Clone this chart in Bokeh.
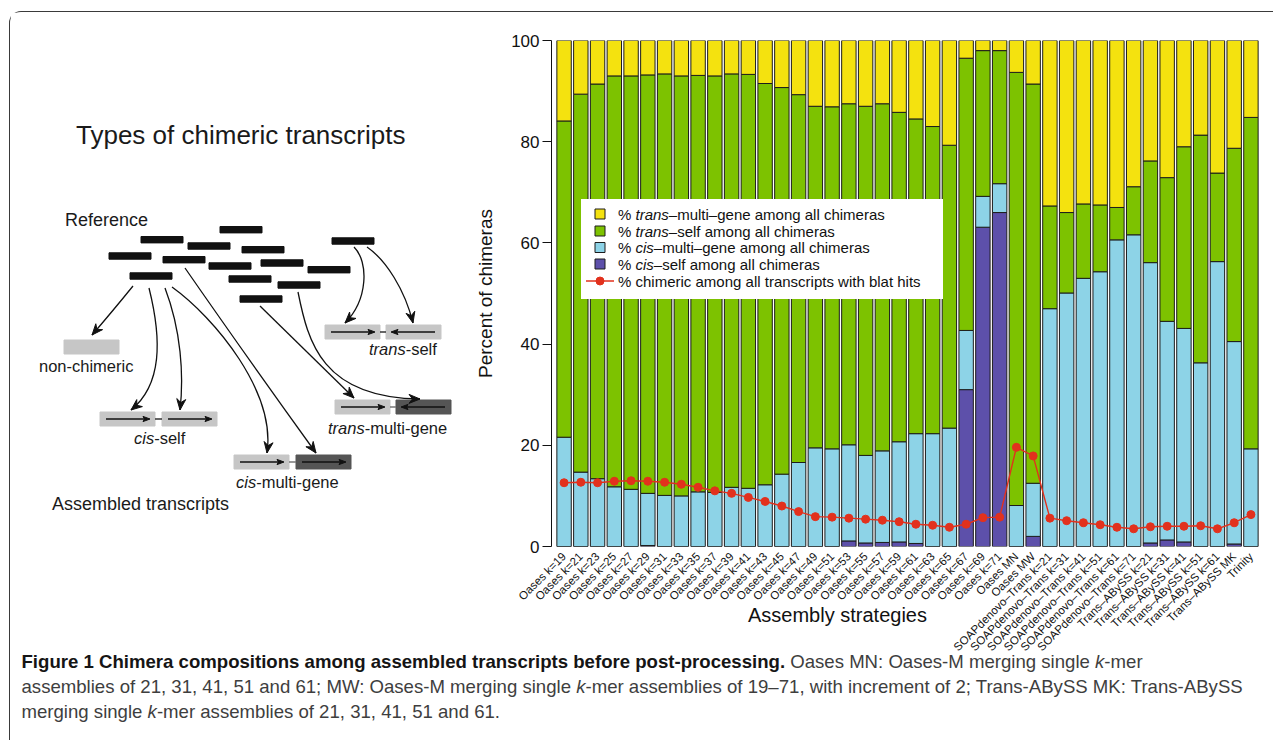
import math
from bokeh.plotting import figure
from bokeh.models import FactorRange, Range1d, FixedTicker, ColumnDataSource, Div
from bokeh.layouts import row, column
from bokeh.core.properties import value
from bokeh.embed import file_html
from bokeh.resources import INLINE

# ---------------- data ----------------
strategies = [
    "Oases k=19", "Oases k=21", "Oases k=23", "Oases k=25", "Oases k=27", "Oases k=29",
    "Oases k=31", "Oases k=33", "Oases k=35", "Oases k=37", "Oases k=39", "Oases k=41",
    "Oases k=43", "Oases k=45", "Oases k=47", "Oases k=49", "Oases k=51", "Oases k=53",
    "Oases k=55", "Oases k=57", "Oases k=59", "Oases k=61", "Oases k=63", "Oases k=65",
    "Oases k=67", "Oases k=69", "Oases k=71", "Oases MN", "Oases MW",
    "SOAPdenovo–Trans k=21", "SOAPdenovo–Trans k=31", "SOAPdenovo–Trans k=41",
    "SOAPdenovo–Trans k=51", "SOAPdenovo–Trans k=61", "SOAPdenovo–Trans k=71",
    "Trans–ABySS k=21", "Trans–ABySS k=31", "Trans–ABySS k=41", "Trans–ABySS k=51",
    "Trans–ABySS k=61", "Trans–ABySS MK", "Trinity",
]
cis_self = [0, 0, 0, 0, 0, 0.2, 0, 0, 0, 0, 0, 0, 0, 0, 0, 0, 0, 1.1, 0.7, 0.8, 0.9, 0.6,
            0, 0, 31.0, 63.1, 66.0, 0, 2.0, 0, 0, 0, 0, 0, 0, 0.7, 1.3, 0.9, 0, 0, 0.5, 0]
cis_multi = [21.6, 14.7, 13.4, 11.8, 11.3, 10.3, 10.1, 10.0, 10.8, 10.7, 11.7, 11.5, 12.2,
             14.3, 16.6, 19.5, 19.3, 19.0, 17.3, 18.1, 19.8, 21.7, 22.3, 23.4, 11.7, 6.1,
             5.7, 8.1, 10.5, 47.0, 50.1, 53.0, 54.3, 60.6, 61.6, 55.4, 43.2, 42.2, 36.3,
             56.3, 40.0, 19.3]
trans_self = [62.5, 74.7, 78.0, 81.2, 81.7, 82.7, 83.3, 83.0, 82.3, 82.3, 81.7, 81.8, 79.3,
              76.4, 72.7, 67.5, 67.6, 67.4, 69.0, 68.6, 65.1, 62.2, 60.7, 55.9, 53.8, 28.8,
              26.3, 85.6, 78.9, 20.3, 15.9, 14.7, 13.2, 6.4, 9.5, 20.1, 28.4, 35.9, 45.0,
              17.5, 38.2, 65.5]
trans_multi = [15.9, 10.6, 8.6, 7.0, 7.0, 6.8, 6.6, 7.0, 6.9, 7.0, 6.6, 6.7, 8.5, 9.3, 10.7,
               13.0, 13.1, 12.5, 13.0, 12.5, 14.2, 15.5, 17.0, 20.7, 3.5, 2.0, 2.0, 6.3, 8.6,
               32.7, 34.0, 32.3, 32.5, 33.0, 28.9, 23.8, 27.1, 21.0, 18.7, 26.2, 21.3, 15.2]
chimeric_pct = [12.6, 12.7, 12.6, 12.9, 13.0, 12.9, 12.7, 12.3, 11.7, 11.0, 10.5, 9.7, 8.9,
                8.0, 6.9, 5.9, 5.8, 5.6, 5.4, 5.2, 4.9, 4.4, 4.2, 3.8, 4.4, 5.7, 5.8, 19.6,
                17.9, 5.6, 5.1, 4.7, 4.3, 3.8, 3.5, 3.9, 4.0, 4.0, 4.1, 3.5, 4.7, 6.3]
y_ticks = [0, 20, 40, 60, 80, 100]

YELLOW, GREEN, CYAN, PURPLE, RED = "#f4e20f", "#7dc200", "#8dd3e7", "#5d50aa", "#e2311d"
FONT = "Liberation Sans"

# ---------------- geometry (page pixels) ----------------
OX, OY = 10.5, 12.5          # content origin inside the framed box
DW = 461                     # diagram width
PAD = 0.25
ML, MR, MT, MB = 80, 10, 28, 120
FRAME_H = 506
CH = MT + FRAME_H + MB
CW = 802
FRAME_W = CW - ML - MR
UNIT_X = FRAME_W / (len(strategies) + 2 * PAD)
X0_PAGE, Y0_PAGE = OX + DW + ML, OY + MT    # page position of chart frame's top-left


def sx(px):
    return (px - X0_PAGE) / UNIT_X - PAD


def sy(py):
    return (Y0_PAGE + FRAME_H - py) * 100.0 / FRAME_H


# ---------------- chart ----------------
src = ColumnDataSource(dict(strategy=strategies, cis_self=cis_self, cis_multi=cis_multi,
                            trans_self=trans_self, trans_multi=trans_multi,
                            chimeric=chimeric_pct))

p = figure(x_range=FactorRange(factors=strategies, range_padding=PAD,
                               range_padding_units="absolute"),
           y_range=Range1d(0, 100), width=CW, height=CH,
           min_border_left=ML, min_border_right=MR, min_border_top=MT, min_border_bottom=MB,
           output_backend="svg", toolbar_location=None)
p.vbar_stack(["cis_self", "cis_multi", "trans_self", "trans_multi"], x="strategy",
             width=0.86, color=[PURPLE, CYAN, GREEN, YELLOW], line_color="#1c1c1c",
             line_width=1, source=src)
p.line(x="strategy", y="chimeric", source=src, color=RED, line_width=1.4)
p.scatter(x="strategy", y="chimeric", source=src, size=8, color=RED)

p.grid.visible = False
p.outline_line_color = None
p.background_fill_color = "white"

xa = p.xaxis[0]
xa.axis_line_color = None
xa.major_tick_line_color = None
xa.minor_tick_line_color = None
xa.major_label_orientation = math.pi / 4
xa.major_label_text_font = FONT
xa.major_label_text_font_size = "11.5px"
xa.major_label_text_color = "#111111"
xa.major_label_standoff = 2

ya = p.yaxis[0]
ya.ticker = FixedTicker(ticks=y_ticks)
ya.minor_tick_line_color = None
ya.major_tick_in = 0
ya.major_tick_out = 9
ya.major_tick_line_color = "#111111"
ya.axis_line_color = "#111111"
ya.major_label_text_font = FONT
ya.major_label_text_font_size = "17px"
ya.major_label_text_color = "#111111"
ya.major_label_standoff = 3
ya.axis_label = "Percent of chimeras"
ya.axis_label_text_font = FONT
ya.axis_label_text_font_size = "19px"
ya.axis_label_text_font_style = "normal"
ya.axis_label_text_color = "#111111"
ya.axis_label_standoff = 12

# legend drawn by hand (mixed italic text)
p.quad(left=[sx(581)], right=[sx(943)], top=[sy(199)], bottom=[sy(299)],
       fill_color="white", line_color=None)
leg_rows = [sy(214), sy(231), sy(247.5), sy(264), sy(281)]
p.scatter(x=[sx(600)] * 4, y=leg_rows[:4], marker="square", size=10,
          fill_color=[YELLOW, GREEN, CYAN, PURPLE], line_color="#1c1c1c", line_width=1)
p.segment(x0=[sx(586)], x1=[sx(614)], y0=[leg_rows[4]], y1=[leg_rows[4]], color=RED,
          line_width=1.6)
p.scatter(x=[sx(600)], y=[leg_rows[4]], size=8, color=RED)
LF = 15
tx = sx(618)
p.text(x=[tx] * 5, y=leg_rows, text=["% "] * 4 + ["% chimeric among all transcripts with blat hits"],
       text_font=value(FONT), text_font_size=f"{LF}px", text_baseline="middle",
       text_color="#111111")
p.text(x=[tx] * 4, y=leg_rows[:4], text=["trans", "trans", "cis", "cis"],
       x_offset=1.167 * LF, text_font=value(FONT), text_font_size=f"{LF}px",
       text_font_style="italic", text_baseline="middle", text_color="#111111")
p.text(x=[tx] * 4, y=leg_rows[:4],
       text=["–multi–gene among all chimeras", "–self among all chimeras",
             "–multi–gene among all chimeras", "–self among all chimeras"],
       x_offset=[(1.167 + 2.223) * LF, (1.167 + 2.223) * LF, (1.167 + 1.222) * LF,
                 (1.167 + 1.222) * LF],
       text_font=value(FONT), text_font_size=f"{LF}px", text_baseline="middle",
       text_color="#111111")

# ---------------- diagram ----------------
d = figure(width=DW, height=CH, x_range=Range1d(OX, OX + DW),
           y_range=Range1d(Y0_PAGE + FRAME_H, Y0_PAGE),
           x_axis_type=None, y_axis_type=None, min_border_left=0, min_border_right=0,
           min_border_top=MT, min_border_bottom=MB, output_backend="svg",
           toolbar_location=None)
d.grid.visible = False
d.outline_line_color = None

ref_left = [220, 141, 188, 242, 332, 109, 163, 209, 261, 308, 130, 229, 278, 240]
ref_mid = [229.7, 239.7, 246, 249.7, 241, 256, 259.7, 266, 263, 269.7, 276, 279, 285, 299]
d.quad(left=ref_left, right=[v + 42 for v in ref_left], top=[v - 3.2 for v in ref_mid],
       bottom=[v + 3.2 for v in ref_mid], color="#111111")

LIGHT, DARK = "#c6c6c6", "#555555"
box_l = [64, 100, 162, 234, 296, 325, 386, 335, 396]
box_r = [119, 155, 217, 289, 351, 380, 441, 390, 451]
box_y = [347, 419, 419, 462, 462, 332, 332, 407, 407]
box_c = [LIGHT, LIGHT, LIGHT, LIGHT, DARK, LIGHT, LIGHT, LIGHT, DARK]
box_dir = [0, 1, 1, 1, 1, 1, -1, 1, -1]
d.quad(left=box_l, right=box_r, top=[v - 7 for v in box_y], bottom=[v + 7 for v in box_y],
       color=box_c)
d.segment(x0=[155, 289, 380, 390], x1=[162, 296, 386, 396], y0=[419, 462, 332, 407],
          y1=[419, 462, 332, 407], color=["#333333", "#777777", "#333333", "#777777"],
          line_width=1.5)

ax0, ay0, ax1, ay1 = [], [], [], []
heads_x, heads_y = [], []


def head(xe, ye, dx, dy, L, W, notch):
    n = math.hypot(dx, dy)
    ux, uy = dx / n, dy / n
    px_, py_ = -uy, ux
    bx, by = xe - ux * L, ye - uy * L
    nx, ny = xe - ux * (L - notch), ye - uy * (L - notch)
    heads_x.append([xe, bx + px_ * W, nx, bx - px_ * W])
    heads_y.append([ye, by + py_ * W, ny, by - py_ * W])


for l, r, y, dr in zip(box_l, box_r, box_y, box_dir):
    if dr == 0:
        continue
    s, e = (l + 6, r - 5) if dr > 0 else (r - 6, l + 5)
    ax0.append(s)
    ax1.append(e - dr * 4)
    ay0.append(y)
    ay1.append(y)
    head(e, y, dr, 0, 7, 2.6, 1.5)
d.segment(x0=ax0, x1=ax1, y0=ay0, y1=ay1, color="#111111", line_width=1.5)

curves = [
    ((133, 286), (120, 302), (105, 320), (92, 335)),
    ((149, 288), (162, 340), (162, 385), (131, 410)),
    ((165, 288), (181, 330), (184, 375), (180, 410)),
    ((172, 287), (215, 318), (276, 392), (267, 453)),
    ((185, 268), (228, 330), (272, 392), (316, 453)),
    ((260, 306), (291, 336), (323, 368), (354, 398)),
    ((298, 292), (308, 342), (322, 398), (420, 399)),
    ((354, 247), (369, 262), (368, 300), (345, 323)),
    ((367, 247), (386, 260), (405, 290), (413, 323)),
]
d.bezier(x0=[c[0][0] for c in curves], y0=[c[0][1] for c in curves],
         cx0=[c[1][0] for c in curves], cy0=[c[1][1] for c in curves],
         cx1=[c[2][0] for c in curves], cy1=[c[2][1] for c in curves],
         x1=[c[3][0] for c in curves], y1=[c[3][1] for c in curves],
         color="#111111", line_width=1.3)
for c in curves:
    head(c[3][0], c[3][1], c[3][0] - c[2][0], c[3][1] - c[2][1], 11, 4.5, 3.5)
d.patches(xs=heads_x, ys=heads_y, color="#111111")

TXT = "#1a1a1a"
d.text(x=[76], y=[135], text=["Types of chimeric transcripts"], text_font=value(FONT),
       text_font_size="26px", text_baseline="middle", text_color=TXT)
d.text(x=[65, 52], y=[220, 504], text=["Reference", "Assembled transcripts"],
       text_font=value(FONT), text_font_size="18px", text_baseline="middle", text_color=TXT)
LS = 16.5
d.text(x=[39], y=[366], text=["non-chimeric"], text_font=value(FONT),
       text_font_size=f"{LS}px", text_baseline="middle", text_color=TXT)
lab_x = [134, 236, 369, 328]
lab_y = [438, 482, 349, 428]
d.text(x=lab_x, y=lab_y, text=["cis", "cis", "trans", "trans"], text_font=value(FONT),
       text_font_size=f"{LS}px", text_font_style="italic", text_baseline="middle",
       text_color=TXT)
d.text(x=lab_x, y=lab_y, text=["-self", "-multi-gene", "-self", "-multi-gene"],
       x_offset=[1.222 * LS, 1.222 * LS, 2.223 * LS, 2.223 * LS], text_font=value(FONT),
       text_font_size=f"{LS}px", text_baseline="middle", text_color=TXT)

# ---------------- x-axis title + caption (overlaid below the chart) ----------------
DIV_TOP = 604.5
lift = int(round(OY + CH - DIV_TOP))
caption = Div(width=1262, height=136, margin=(-lift, 0, 0, 0), text=(
    "<div style=\"font-family:'Liberation Sans';color:#111111;white-space:nowrap\">"
    "<div style='height:22px;line-height:22px;font-size:20px;padding-left:738px'>"
    "Assembly strategies</div>"
    "<div style='margin-top:23px;margin-left:11.5px;font-size:18.6px;"
    "line-height:25px;color:#3e3e3e'>"
    "<div><b style='color:#151515'>Figure 1 Chimera compositions among assembled transcripts "
    "before post-processing.</b> Oases MN: Oases-M merging single <i>k</i>-mer</div>"
    "<div>assemblies of 21, 31, 41, 51 and 61; MW: Oases-M merging single <i>k</i>-mer "
    "assemblies of 19–71, with increment of 2; Trans-ABySS MK: Trans-ABySS</div>"
    "<div>merging single <i>k</i>-mer assemblies of 21, 31, 41, 51 and 61.</div>"
    "</div></div>"))

layout = column(row(d, p), caption,
                styles={"border-left": "1.5px solid #3a3a3a", "border-top": "1.5px solid #3a3a3a",
                        "border-top-left-radius": "12px", "margin-top": "11px",
                        "margin-left": "9px"})

open("out.html", "w").write(file_html(layout, INLINE))
